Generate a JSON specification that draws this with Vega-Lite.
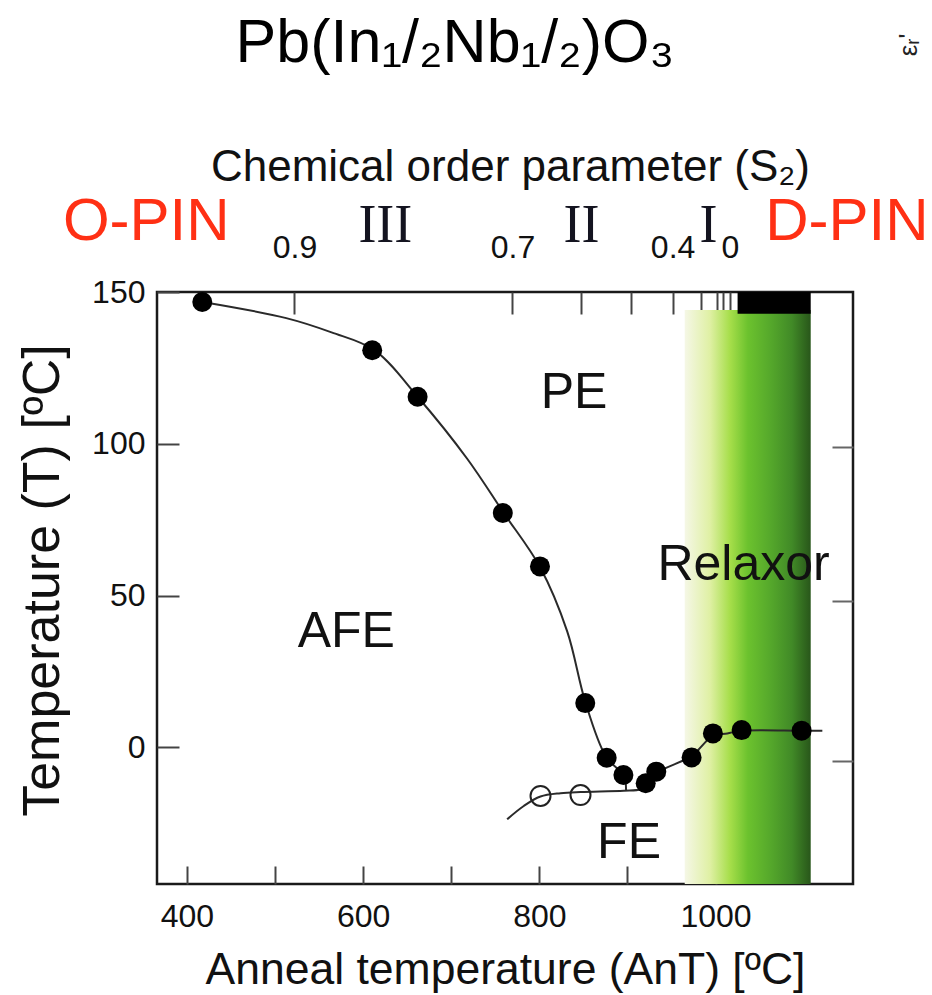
{
  "$schema": "https://vega.github.io/schema/vega-lite/v6.json",
  "width": 696,
  "height": 592,
  "autosize": "none",
  "padding": {"left": 157, "top": 292, "right": 79, "bottom": 111},
  "background": "white",
  "title": {"text": "Pb(In₁/₂Nb₁/₂)O₃", "fontSize": 61, "font": "Liberation Sans", "fontWeight": "normal", "anchor": "middle", "frame": "group", "dx": -50, "dy": 46, "color": "#000"},
  "config": {
    "font": "Liberation Sans",
    "view": {"stroke": "#1a1a1a", "strokeWidth": 2.5},
    "axis": {"domain": false, "grid": false, "tickColor": "#444", "tickWidth": 2, "labelFont": "Liberation Sans", "titleFont": "Liberation Sans", "titleFontWeight": "normal", "labelColor": "#111", "titleColor": "#111", "labelFlush": false, "labelOverlap": false}
  },
  "resolve": {"axis": {"x": "independent", "y": "independent"}},
  "layer": [
    {
      "data": {"values": [{"x": 965, "x2": 1108, "y": -45, "y2": 144.1}]},
      "mark": {"type": "rect", "color": {"gradient": "linear", "x1": 0, "x2": 1, "y1": 0, "y2": 0, "stops": [
        {"offset": 0, "color": "#f5f7e6"},
        {"offset": 0.2, "color": "#dff0a4"},
        {"offset": 0.36, "color": "#a6de4a"},
        {"offset": 0.5, "color": "#6cc22e"},
        {"offset": 0.68, "color": "#55a82b"},
        {"offset": 0.85, "color": "#418a27"},
        {"offset": 1, "color": "#28561a"}]}},
      "encoding": {
        "x": {"field": "x", "type": "quantitative", "scale": {"domain": [366, 1156], "nice": false, "zero": false},
          "axis": {"orient": "top", "values": [522, 769.5, 847.8, 903.9, 951.2, 983.4, 1001.7, 1009, 1016.3],
            "labelExpr": "datum.value == 522 ? '0.9' : datum.value == 769.5 ? '0.7' : datum.value == 951.2 ? '0.4' : datum.value == 1016.3 ? '0' : ''",
            "tickSize": -22, "labelPadding": 57, "labelBaseline": "alphabetic", "labelFontSize": 32,
            "title": "Chemical order parameter (S₂)", "titleFontSize": 44, "titleX": 353, "titleY": -112, "titleAlign": "center", "titleBaseline": "alphabetic", "titleAngle": 0}},
        "x2": {"field": "x2"},
        "y": {"field": "y", "type": "quantitative", "scale": {"domain": [-45, 150], "nice": false, "zero": false}, "axis": null},
        "y2": {"field": "y2"}
      }
    },
    {
      "data": {"values": [{"x": 1025, "x2": 1108, "y": 142.8, "y2": 150}]},
      "mark": {"type": "rect", "color": "#000"},
      "encoding": {
        "x": {"field": "x", "type": "quantitative", "scale": {"domain": [366, 1156], "nice": false, "zero": false}, "axis": null},
        "x2": {"field": "x2"},
        "y": {"field": "y", "type": "quantitative", "scale": {"domain": [-45, 150], "nice": false, "zero": false},
          "axis": {"orient": "right", "values": [98.9, 48.2, -4.5], "labels": false, "tickSize": -21, "title": null, "tickColor": "#666"}},
        "y2": {"field": "y2"}
      }
    },
    {
      "data": {"values": [
        {"series": "A", "x": 417.5, "y": 146.7},
        {"series": "A", "x": 512.7, "y": 141.4},
        {"series": "A", "x": 564.1, "y": 136.7},
        {"series": "A", "x": 612.9, "y": 130.8},
        {"series": "A", "x": 661.8, "y": 115.5},
        {"series": "A", "x": 718.3, "y": 95.0},
        {"series": "A", "x": 759.6, "y": 77.2},
        {"series": "A", "x": 800.7, "y": 59.4},
        {"series": "A", "x": 831.6, "y": 38.2},
        {"series": "A", "x": 852.1, "y": 15.0},
        {"series": "A", "x": 875.3, "y": -2.9},
        {"series": "A", "x": 895.9, "y": -9.5},
        {"series": "A", "x": 898.4, "y": -14.1},
        {"series": "B", "x": 763.4, "y": -23.7},
        {"series": "B", "x": 782.3, "y": -19.3},
        {"series": "B", "x": 801.3, "y": -16.2},
        {"series": "B", "x": 824, "y": -15.1},
        {"series": "B", "x": 846.7, "y": -14.7},
        {"series": "B", "x": 895.9, "y": -14.3},
        {"series": "B", "x": 914.8, "y": -13.8},
        {"series": "B", "x": 920.5, "y": -12.4},
        {"series": "B", "x": 932.6, "y": -8.5},
        {"series": "B", "x": 972.8, "y": -2.8},
        {"series": "B", "x": 996.9, "y": 3.8},
        {"series": "B", "x": 1013.3, "y": 4.6},
        {"series": "B", "x": 1029.5, "y": 5.5},
        {"series": "B", "x": 1097.7, "y": 5.5},
        {"series": "B", "x": 1121.2, "y": 5.5}
      ]},
      "mark": {"type": "line", "interpolate": "catmull-rom", "color": "#2a2a2a", "strokeWidth": 2},
      "encoding": {
        "x": {"field": "x", "type": "quantitative", "scale": {"domain": [366, 1156], "nice": false, "zero": false}, "axis": null},
        "y": {"field": "y", "type": "quantitative", "scale": {"domain": [-45, 150], "nice": false, "zero": false}, "axis": null},
        "detail": {"field": "series"}
      }
    },
    {
      "data": {"values": [{"x": 801.3, "y": -16.0}, {"x": 846.7, "y": -15.7}]},
      "mark": {"type": "point", "shape": "circle", "filled": false, "size": 400, "stroke": "#222", "strokeWidth": 2, "opacity": 1},
      "encoding": {
        "x": {"field": "x", "type": "quantitative", "scale": {"domain": [366, 1156], "nice": false, "zero": false}, "axis": null},
        "y": {"field": "y", "type": "quantitative", "scale": {"domain": [-45, 150], "nice": false, "zero": false}, "axis": null}
      }
    },
    {
      "data": {"values": [
        {"x": 417.4, "y": 146.7}, {"x": 610.3, "y": 130.8}, {"x": 661.8, "y": 115.5}, {"x": 758.5, "y": 77.2},
        {"x": 800.7, "y": 59.6}, {"x": 852.1, "y": 14.6}, {"x": 876.4, "y": -3.4}, {"x": 895.4, "y": -9.1},
        {"x": 920.7, "y": -11.8}, {"x": 932.7, "y": -8.0}, {"x": 972.8, "y": -3.3}, {"x": 997, "y": 4.6},
        {"x": 1029.6, "y": 5.7}, {"x": 1097.7, "y": 5.5}
      ]},
      "mark": {"type": "circle", "size": 400, "color": "#000", "opacity": 1},
      "encoding": {
        "x": {"field": "x", "type": "quantitative", "scale": {"domain": [366, 1156], "nice": false, "zero": false},
          "axis": {"orient": "bottom", "values": [400, 500, 600, 700, 800, 900, 1000], "labelExpr": "datum.value % 200 == 0 ? '' + datum.value : ''",
            "tickSize": -18, "labelPadding": 60, "labelBaseline": "alphabetic", "labelFontSize": 32,
            "title": "Anneal temperature (AnT) [ºC]", "titleFontSize": 44.5, "titleX": 348, "titleY": 99, "titleAlign": "center", "titleBaseline": "alphabetic"}},
        "y": {"field": "y", "type": "quantitative", "scale": {"domain": [-45, 150], "nice": false, "zero": false},
          "axis": {"orient": "left", "values": [0, 50, 100, 150], "tickSize": -22, "labelPadding": 34, "labelFontSize": 32,
            "title": "Temperature (T) [ºC]", "titleFontSize": 52, "titleAngle": -90, "titleX": -99, "titleY": 288, "titleAlign": "center", "titleBaseline": "alphabetic"}}
      }
    },
    {
      "data": {"values": [
        {"t": "PE", "x": 839.3, "y": 116.7},
        {"t": "AFE", "x": 580.9, "y": 38.0},
        {"t": "Relaxor", "x": 1031.8, "y": 60.1},
        {"t": "FE", "x": 901.8, "y": -31.5}
      ]},
      "mark": {"type": "text", "fontSize": 50, "font": "Liberation Sans", "color": "#111", "align": "center", "baseline": "middle"},
      "encoding": {
        "x": {"field": "x", "type": "quantitative", "scale": {"domain": [366, 1156], "nice": false, "zero": false}, "axis": null},
        "y": {"field": "y", "type": "quantitative", "scale": {"domain": [-45, 150], "nice": false, "zero": false}, "axis": null},
        "text": {"field": "t"}
      }
    },
    {
      "data": {"values": [
        {"t": "O-PIN", "x": 259.2, "y": 173.1},
        {"t": "D-PIN", "x": 1056.3, "y": 173.1}
      ]},
      "mark": {"type": "text", "fontSize": 60, "font": "Liberation Sans", "color": "#ff3014", "align": "left", "baseline": "middle"},
      "encoding": {
        "x": {"field": "x", "type": "quantitative", "scale": {"domain": [366, 1156], "nice": false, "zero": false}, "axis": null},
        "y": {"field": "y", "type": "quantitative", "scale": {"domain": [-45, 150], "nice": false, "zero": false}, "axis": null},
        "text": {"field": "t"}
      }
    },
    {
      "data": {"values": [
        {"t": "III", "x": 625.2, "y": 171.7},
        {"t": "II", "x": 847.8, "y": 171.7},
        {"t": "I", "x": 992, "y": 171.7}
      ]},
      "mark": {"type": "text", "fontSize": 54, "font": "Liberation Serif", "color": "#141420", "align": "center", "baseline": "middle"},
      "encoding": {
        "x": {"field": "x", "type": "quantitative", "scale": {"domain": [366, 1156], "nice": false, "zero": false}, "axis": null},
        "y": {"field": "y", "type": "quantitative", "scale": {"domain": [-45, 150], "nice": false, "zero": false}, "axis": null},
        "text": {"field": "t"}
      }
    },
    {
      "data": {"values": [{"t": "εᵣ'", "x": 1219.2, "y": 231.4}]},
      "mark": {"type": "text", "fontSize": 26, "font": "Liberation Sans", "color": "#222", "align": "center", "baseline": "middle", "angle": 270},
      "encoding": {
        "x": {"field": "x", "type": "quantitative", "scale": {"domain": [366, 1156], "nice": false, "zero": false}, "axis": null},
        "y": {"field": "y", "type": "quantitative", "scale": {"domain": [-45, 150], "nice": false, "zero": false}, "axis": null},
        "text": {"field": "t"}
      }
    }
  ]
}
